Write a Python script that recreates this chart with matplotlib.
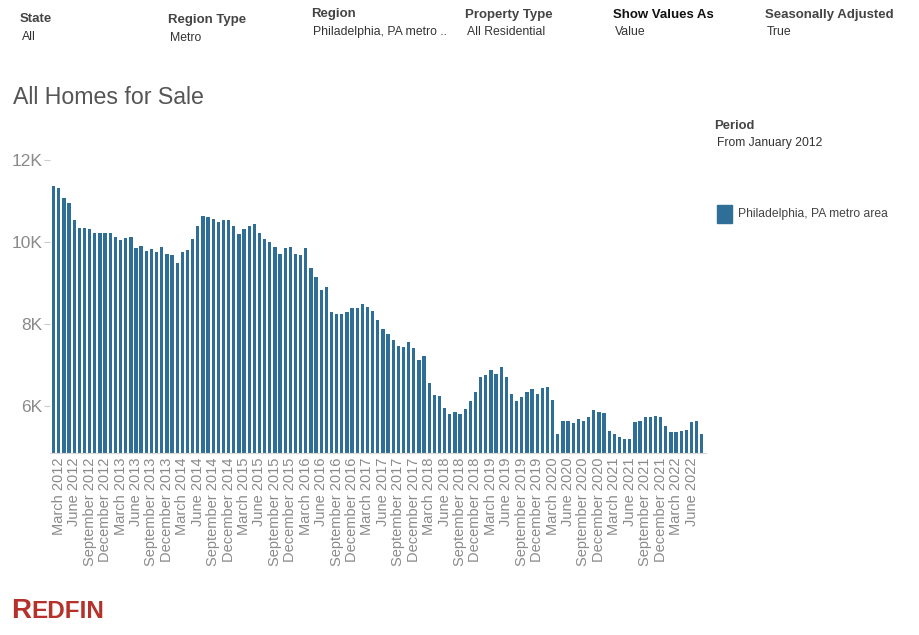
import matplotlib
matplotlib.use("Agg")
import matplotlib.pyplot as plt
import pandas as pd

plt.rcParams['font.family'] = ['Liberation Sans', 'DejaVu Sans']

# ---- data ----
start_month = "2012-02"
homes_for_sale = [
    11366, 11333, 11081, 10951, 10545, 10350, 10350, 10317, 10228, 10228,
    10228, 10228, 10122, 10041, 10098, 10130, 9846, 9911, 9789, 9821,
    9748, 9878, 9716, 9683, 9496, 9748, 9813, 10066, 10382, 10634,
    10602, 10569, 10488, 10545, 10545, 10382, 10195, 10317, 10382, 10447,
    10228, 10066, 10000, 9878, 9716, 9846, 9878, 9716, 9683, 9846,
    9366, 9146, 8829, 8894, 8285, 8236, 8236, 8285, 8382, 8382,
    8488, 8423, 8325, 8106, 7886, 7756, 7602, 7472, 7439, 7569,
    7415, 7122, 7220, 6553, 6268, 6236, 5959, 5805, 5862, 5805,
    5927, 6122, 6333, 6715, 6748, 6878, 6780, 6943, 6715, 6301,
    6114, 6211, 6333, 6407, 6301, 6431, 6455, 6146, 5325, 5642,
    5642, 5577, 5675, 5642, 5740, 5894, 5862, 5829, 5390, 5325,
    5236, 5203, 5203, 5610, 5642, 5740, 5740, 5764, 5740, 5520,
    5358, 5358, 5390, 5423, 5610, 5642, 5325,
]
y_ticks = [6000, 8000, 10000, 12000]
y_tick_labels = ["6K", "8K", "10K", "12K"]
filter_titles = ["State", "Region Type", "Region", "Property Type", "Show Values As", "Seasonally Adjusted"]
filter_values = ["All", "Metro", "Philadelphia, PA metro ..", "All Residential", "Value", "True"]
series_name = "Philadelphia, PA metro area"

months = pd.date_range(start_month, periods=len(homes_for_sale), freq="MS")
xs = list(range(len(homes_for_sale)))
tick_pos = [i for i, m in enumerate(months) if m.month in (3, 6, 9, 12)]
tick_lab = [months[i].strftime("%B %Y") for i in tick_pos]

W, H = 919, 635
fig = plt.figure(figsize=(W / 100, H / 100), dpi=100)

def fx(px):
    return px / W

def fy(py):
    return 1 - py / H

ax_left, ax_right, ax_top, ax_bot = 50, 705.5, 150, 453
ax = fig.add_axes([fx(ax_left), fy(ax_bot), fx(ax_right - ax_left), (ax_bot - ax_top) / H])

bar_color = "#2f6f97"
ax.bar(xs, homes_for_sale, width=0.64, color=bar_color, linewidth=0)
ax.set_xlim(-0.72, len(xs) - 1 + 0.72)
ax.set_ylim(4850, 12250)

for s in ["top", "right", "left"]:
    ax.spines[s].set_visible(False)
ax.spines["bottom"].set_color("#d8d8d8")
ax.spines["bottom"].set_linestyle((0, (1, 1)))
ax.spines["bottom"].set_linewidth(0.8)

ax.set_yticks(y_ticks)
ax.set_yticklabels(y_tick_labels)
ax.tick_params(axis="y", length=4, width=0.8, color="#cccccc", pad=1.5,
               labelsize=12.5, labelcolor="#8a8a8a")
ax.set_xticks(tick_pos)
ax.set_xticklabels(tick_lab, rotation=90)
ax.tick_params(axis="x", length=0, pad=3.5, labelsize=10.5, labelcolor="#8a8a8a")

# title
fig.text(fx(13), fy(97), "All Homes for Sale", fontsize=16.7, color="#555555",
         ha="left", va="center")

# filter header
title_x = [20, 168, 311, 465, 613, 765]
title_y = [19, 20, 14, 15, 15, 15]
value_x = [22, 170, 313, 467, 615, 767]
value_y = [37, 38, 32, 32, 32, 32]
for i, (t, v) in enumerate(zip(filter_titles, filter_values)):
    col = "#111111" if t == "Show Values As" else "#444444"
    fig.text(fx(title_x[i]), fy(title_y[i]), t, fontsize=9.5, fontweight="bold",
             color=col, ha="left", va="center")
    fig.text(fx(value_x[i]), fy(value_y[i]), v, fontsize=8.8, color="#333333",
             ha="left", va="center")

# legend
fig.text(fx(714), fy(126), "Period", fontsize=9.4, fontweight="bold", color="#444444",
         ha="left", va="center")
fig.text(fx(717), fy(143), "From January 2012", fontsize=8.7, color="#333333",
         ha="left", va="center")
fig.patches.append(plt.Rectangle((fx(717), fy(223)), fx(15), 18 / H,
                                 transform=fig.transFigure, color=bar_color))
fig.text(fx(738), fy(214), series_name, fontsize=8.7, color="#444444",
         ha="left", va="center")

# logo
fig.text(fx(11), fy(618), "R", fontsize=20, fontweight="bold", color="#b5322b",
         ha="left", va="baseline")
fig.text(fx(31), fy(618), "EDFIN", fontsize=17.5, fontweight="bold", color="#b5322b",
         ha="left", va="baseline")

fig.savefig("out.png", dpi=100)
